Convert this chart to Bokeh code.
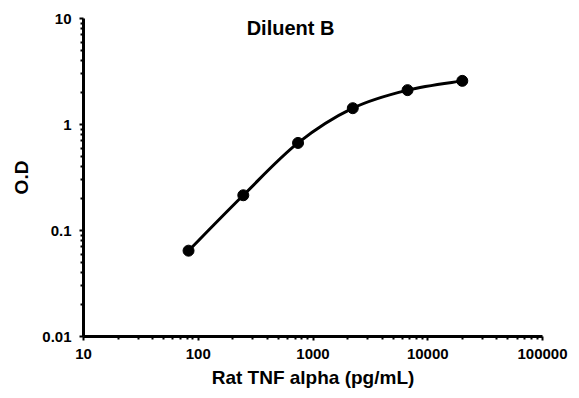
import math
from bokeh.plotting import figure
from bokeh.models import FixedTicker, Label
from bokeh.embed import file_html
from bokeh.resources import INLINE

# Data
conc = [82.3, 246.9, 740.7, 2222.0, 6667.0, 20000.0]
od = [0.0645, 0.215, 0.67, 1.425, 2.11, 2.58]

xticks = [10, 100, 1000, 10000, 100000]
xtick_labels = ["10", "100", "1000", "10000", "100000"]
yticks = [0.01, 0.1, 1, 10]
ytick_labels = ["0.01", "0.1", "1", "10"]

title_text = "Diluent B"
x_title = "Rat TNF alpha (pg/mL)"
y_title = "O.D"

FONT = "Liberation Sans"

p = figure(width=571, height=390, x_axis_type="log", y_axis_type="log",
           x_range=(10, 100000), y_range=(0.01, 10),
           output_backend="svg", toolbar_location=None,
           min_border_left=83, min_border_right=29,
           min_border_top=18, min_border_bottom=52)
p.outline_line_color = None
p.xgrid.visible = False
p.ygrid.visible = False
p.background_fill_color = "white"
p.border_fill_color = "white"

def minors(decades):
    out = []
    for d in decades[:-1]:
        for k in range(2, 10):
            out.append(d * k)
    return out

p.xaxis.ticker = FixedTicker(ticks=xticks, minor_ticks=minors(xticks))
p.yaxis.ticker = FixedTicker(ticks=yticks, minor_ticks=minors(yticks))
p.xaxis.major_label_overrides = {t: l for t, l in zip(xticks, xtick_labels)}
p.yaxis.major_label_overrides = {t: l for t, l in zip(yticks, ytick_labels)}

for ax in (p.xaxis, p.yaxis):
    ax.axis_line_width = 3
    ax.axis_line_color = "black"
    ax.major_tick_line_color = "black"
    ax.major_tick_line_width = 2
    ax.major_tick_out = 4
    ax.major_tick_in = 0
    ax.minor_tick_line_color = "black"
    ax.minor_tick_line_width = 2
    ax.minor_tick_out = 3
    ax.minor_tick_in = 0
    ax.major_label_text_font = FONT
    ax.major_label_text_font_style = "bold"
    ax.major_label_text_font_size = "15px"
    ax.major_label_text_color = "black"
    ax.axis_label_text_font = FONT
    ax.axis_label_text_font_style = "bold"
    ax.axis_label_text_font_size = "19px"
    ax.axis_label_text_color = "black"

p.xaxis.axis_label = x_title
p.yaxis.axis_label = y_title
p.xaxis.major_label_standoff = 8
p.yaxis.major_label_standoff = 8
p.xaxis.axis_label_standoff = 5
p.yaxis.axis_label_standoff = 7

# Smooth curve through the points: Catmull-Rom in log space -> cubic Bezier
lx = [math.log10(v) for v in conc]
ly = [math.log10(v) for v in od]
n = len(lx)
x0, y0, x1, y1, cx0, cy0, cx1, cy1 = [], [], [], [], [], [], [], []
for i in range(n - 1):
    pxm = lx[i - 1] if i > 0 else lx[i]
    pym = ly[i - 1] if i > 0 else ly[i]
    pxp = lx[i + 2] if i + 2 < n else lx[i + 1]
    pyp = ly[i + 2] if i + 2 < n else ly[i + 1]
    x0.append(10 ** lx[i]); y0.append(10 ** ly[i])
    x1.append(10 ** lx[i + 1]); y1.append(10 ** ly[i + 1])
    cx0.append(10 ** (lx[i] + (lx[i + 1] - pxm) / 6))
    cy0.append(10 ** (ly[i] + (ly[i + 1] - pym) / 6))
    cx1.append(10 ** (lx[i + 1] - (pxp - lx[i]) / 6))
    cy1.append(10 ** (ly[i + 1] - (pyp - ly[i]) / 6))
p.bezier(x0=x0, y0=y0, x1=x1, y1=y1, cx0=cx0, cy0=cy0, cx1=cx1, cy1=cy1,
         line_color="black", line_width=3)
p.scatter(conc, od, size=11, fill_color="black", line_color="black")

p.add_layout(Label(x=637, y=8.2, text=title_text, text_align="center",
                   text_baseline="middle", text_font=FONT,
                   text_font_style="bold", text_font_size="20px",
                   text_color="black"))

open("out.html", "w").write(file_html(p, INLINE))
